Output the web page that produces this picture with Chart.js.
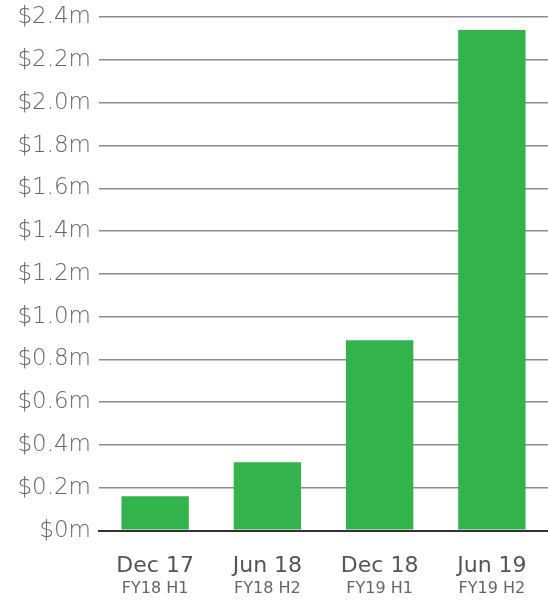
<!DOCTYPE html>
<html>
<head>
<meta charset="utf-8">
<script src="https://cdn.jsdelivr.net/npm/chart.js@4"></script>
<style>
  html, body { margin: 0; padding: 0; background: #fff; }
  #wrap { width: 548px; height: 601px; }
</style>
</head>
<body>
<div id="wrap"><canvas id="chart"></canvas></div>
<script>
const periods = ['Dec 17', 'Jun 18', 'Dec 18', 'Jun 19'];
const halves = ['FY18 H1', 'FY18 H2', 'FY19 H1', 'FY19 H2'];
const revenue = [0.16, 0.32, 0.89, 2.34];
const yTicks = [0, 0.2, 0.4, 0.6, 0.8, 1.0, 1.2, 1.4, 1.6, 1.8, 2.0, 2.2, 2.4];

// small second line under each x label
const subLabels = {
  id: 'subLabels',
  afterDraw(chart) {
    const x = chart.scales.x;
    const ctx = chart.ctx;
    ctx.save();
    ctx.font = '400 16px "DejaVu Sans"';
    ctx.fillStyle = '#666';
    ctx.textAlign = 'center';
    ctx.textBaseline = 'middle';
    halves.forEach((h, i) => ctx.fillText(h, x.getPixelForValue(i), 589));
    ctx.restore();
  },
};

new Chart(document.getElementById('chart'), {
  type: 'bar',
  data: {
    labels: periods,
    datasets: [{ data: revenue, backgroundColor: '#32b34b', barPercentage: 0.6, categoryPercentage: 1 }],
  },
  plugins: [subLabels],
  options: {
    responsive: true,
    maintainAspectRatio: false,
    animation: false,
    layout: { padding: { top: 0, right: 0, bottom: 8, left: 0 } },
    plugins: { legend: { display: false }, tooltip: { enabled: false } },
    scales: {
      x: {
        grid: { display: false },
        border: { color: '#333', width: 2 },
        ticks: { color: '#555', font: { family: 'DejaVu Sans', size: 22 }, padding: 14 },
      },
      y: {
        min: 0,
        max: 2.4,
        afterBuildTicks: (scale) => { scale.ticks = yTicks.map((v) => ({ value: v })); },
        afterFit: (scale) => { scale.width = 99; },
        border: { display: false },
        grid: {
          drawTicks: false,
          color: (c) => (c.tick && c.tick.value === 0 ? '#333' : '#8c8c8c'),
          lineWidth: (c) => (c.tick && c.tick.value === 0 ? 2 : 1.5),
        },
        ticks: {
          color: '#666',
          padding: 8,
          font: { family: 'DejaVu Sans', weight: '200', size: 23, lineHeight: 0.8 },
          callback: (v) => '$' + (v === 0 ? '0' : Number(v).toFixed(1)) + 'm',
        },
      },
    },
  },
});
</script>
</body>
</html>
